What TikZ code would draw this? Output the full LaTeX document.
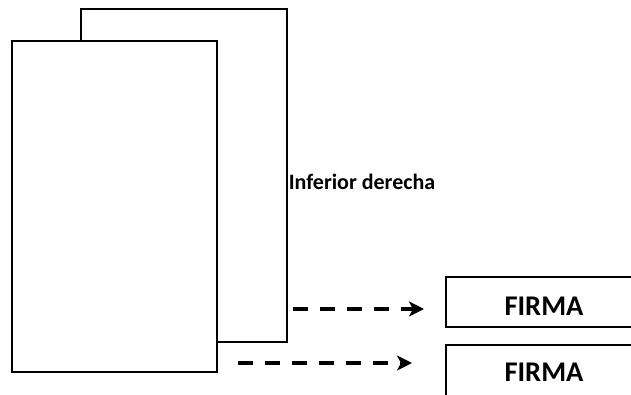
\documentclass[tikz,border=0pt]{standalone}
\usepackage{fontspec}
\setmainfont{Carlito}
\usetikzlibrary{arrows.meta}
\begin{document}
\begin{tikzpicture}[x=1pt,y=-1pt,line width=1.8pt,
  flecha/.style={-{Stealth[length=15pt,width=15pt,inset=4pt]},line width=3.2pt,dash pattern=on 15pt off 12pt}]
\clip (0,0) rectangle (631,394);
% hojas
\draw (81,9) rectangle (287,342);
\draw[fill=white] (12,41) rectangle (217,372);
% cajas de firma
\draw (446,277) rectangle (645,327);
\draw (446,345) rectangle (645,410);
\node (inf) at (362,182) {\fontsize{22}{26}\selectfont\bfseries Inferior derecha};
\node (firma1) at (544,306) {\fontsize{28.5}{32}\selectfont\bfseries FIRMA};
\node (firma2) at (544,372) {\fontsize{28.5}{32}\selectfont\bfseries FIRMA};
\coordinate (a1) at (293,309);
\coordinate (b1) at (424,309);
\coordinate (a2) at (238,363);
\coordinate (b2) at (412,363);
\draw[flecha] (a1) -- (b1);
\draw[flecha] (a2) -- (b2);
\end{tikzpicture}
\end{document}
